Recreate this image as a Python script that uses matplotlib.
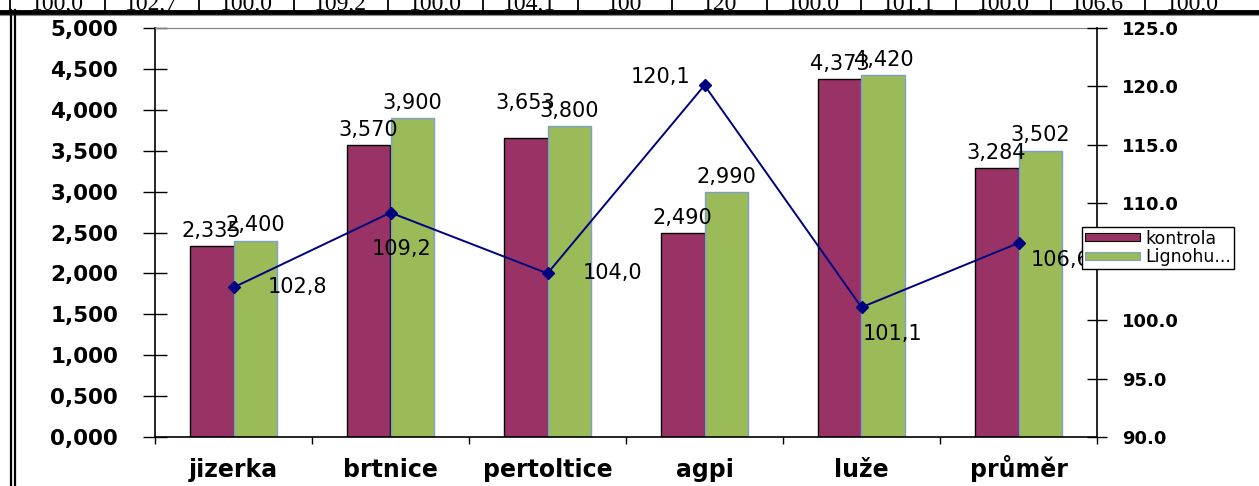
import numpy as np
import matplotlib
matplotlib.use("Agg")
import matplotlib.pyplot as plt
from matplotlib.lines import Line2D
from matplotlib.patches import Patch
from matplotlib.ticker import FuncFormatter, FixedLocator

# data
lokality = ["jizerka", "brtnice", "pertoltice", "agpi", "luže", "průměr"]
kontrola = [2335, 3570, 3653, 2490, 4373, 3284]
lignohumat = [2400, 3900, 3800, 2990, 4420, 3502]
relativne = [102.8, 109.2, 104.0, 120.1, 101.1, 106.6]
radek_tabulky = ["100,0", "102,7", "100,0", "109,2", "100,0", "104,1", "100",
                 "120", "100,0", "101,1", "100,0", "106,6", "100,0"]

c_kontrola = "#993366"
c_ligno = "#9BBB59"
c_linka = "#000080"

W, H = 1259, 486
fig = plt.figure(figsize=(W / 100, H / 100), dpi=100)
fig.patch.set_facecolor("white")

def fx(px):
    return px / W

def fy(py):
    return 1 - py / H

# horni radek tabulky (oriznuty)
for i, t in enumerate(radek_tabulky):
    x0 = 10 + i * 94.6
    fig.add_artist(Line2D([fx(x0), fx(x0)], [fy(0), fy(11)], color="black", lw=1.3))
    fig.text(fx(x0 + 47), fy(9.5), t, ha="center", va="baseline",
             family="Liberation Serif", fontsize=17)
fig.add_artist(Line2D([0, 1], [fy(12), fy(12)], color="black", lw=3.5))
fig.add_artist(Line2D([0, 1], [fy(14.8), fy(14.8)], color="#888888", lw=0.8))
# dvojita leva cara
for xl in (11, 14.5):
    fig.add_artist(Line2D([fx(xl), fx(xl)], [fy(10), 0], color="black", lw=1.6))

ax = fig.add_axes([fx(155), fy(437), fx(1097) - fx(155), fy(28) - fy(437)])
ax2 = ax.twinx()

x = np.arange(len(lokality))
w = 0.28
ax.bar(x - w / 2, kontrola, w, color=c_kontrola, edgecolor="black", linewidth=1)
ax.bar(x + w / 2, lignohumat, w, color=c_ligno, edgecolor="#7BA0CD", linewidth=1)

ax.set_xlim(-0.5, len(lokality) - 0.5)
ax.set_ylim(0, 5000)
ax.set_yticks(np.arange(0, 5001, 500))
ax.yaxis.set_major_formatter(FuncFormatter(lambda v, p: f"{v / 1000:.3f}".replace(".", ",")))
ax.tick_params(axis="y", direction="inout", length=17, width=1, pad=18,
               labelsize=15.5)
for lab in ax.get_yticklabels():
    lab.set_fontweight("bold")

ax.set_xticks(x)
ax.set_xticklabels(lokality, fontsize=17, fontweight="bold")
ax.tick_params(axis="x", which="major", length=0, pad=29)
for lab in ax.get_xticklabels():
    lab.set_verticalalignment("baseline")
ax.xaxis.set_minor_locator(FixedLocator(np.arange(-0.5, len(lokality), 1)))
ax.tick_params(axis="x", which="minor", direction="out", length=5, width=1)

ax.spines["left"].set_linewidth(1.2)
ax.spines["bottom"].set_linewidth(1.2)
ax.spines["top"].set_color("#808080")
ax.spines["right"].set_visible(False)

# popisky sloupcu
posun_k = {2: 25}
for i, v in enumerate(kontrola):
    ax.annotate(f"{v:,}", (x[i] - w / 2, v), xytext=(0, posun_k.get(i, 11)),
                textcoords="offset points", ha="center", va="center", fontsize=15)
for i, v in enumerate(lignohumat):
    ax.annotate(f"{v:,}", (x[i] + w / 2, v), xytext=(0, 11),
                textcoords="offset points", ha="center", va="center", fontsize=15)

# relativni hodnoty na prave ose
ax2.plot(x, relativne, color=c_linka, lw=1.4, marker="D", markersize=6)
ax2.set_ylim(90, 125)
ax2.set_yticks(np.arange(90, 125.1, 5))
ax2.yaxis.set_major_formatter(FuncFormatter(lambda v, p: f"{v:.1f}"))
ax2.tick_params(axis="y", direction="inout", length=14, width=1, pad=11,
                labelsize=13)
for lab in ax2.get_yticklabels():
    lab.set_fontweight("bold")
for s in ("left", "top", "bottom"):
    ax2.spines[s].set_visible(False)
ax2.spines["right"].set_linewidth(1.2)

posun_l = [(46, 0), (8, -26), (47, 0), (-32, 6), (22, -19), (30, -12)]
for i, v in enumerate(relativne):
    ax2.annotate(f"{v:.1f}".replace(".", ","), (x[i], v), xytext=posun_l[i],
                 textcoords="offset points", ha="center", va="center", fontsize=15)

handles = [Patch(facecolor=c_kontrola, edgecolor="black", lw=0.8),
           Patch(facecolor=c_ligno, edgecolor="#7BA0CD", lw=0.8)]
leg = fig.legend(handles, ["kontrola", "Lignohu..."], loc="upper left",
                 bbox_to_anchor=(fx(1082), fy(227)), borderaxespad=0,
                 fontsize=12.5, frameon=True, fancybox=False, framealpha=1,
                 edgecolor="black", handlelength=3.2, handleheight=0.35,
                 borderpad=0.15, labelspacing=0.05, handletextpad=0.3)
leg.get_frame().set_linewidth(1)

fig.savefig("out.png", dpi=100)
